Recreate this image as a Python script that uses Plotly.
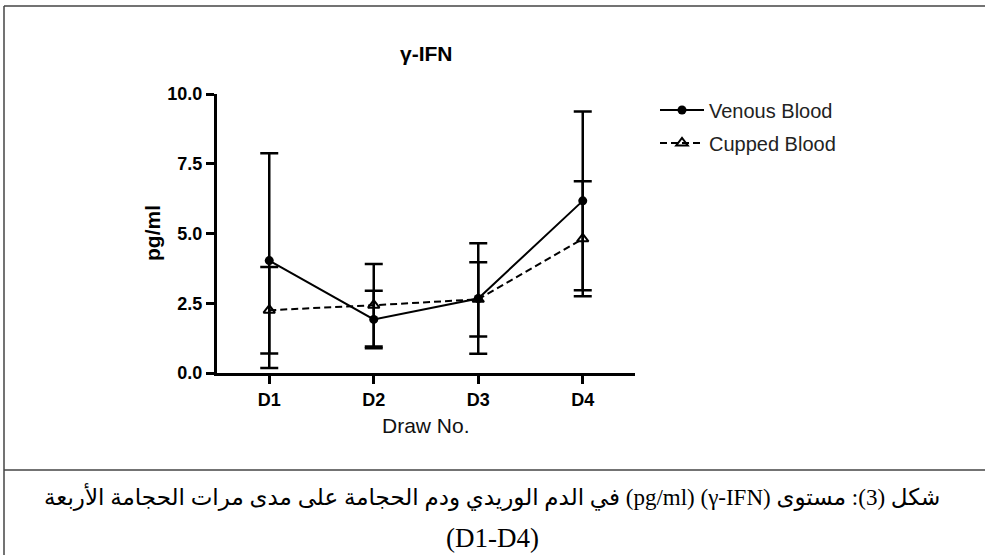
import plotly.graph_objects as go

# ---- data ----
draws = ["D1", "D2", "D3", "D4"]
venous_mean = [4.03, 1.92, 2.67, 6.17]
venous_sd = [3.85, 1.03, 1.98, 3.2]
cupped_mean = [2.25, 2.43, 2.64, 4.81]
cupped_sd = [1.55, 1.48, 1.33, 2.06]
y_ticks = [0, 2.5, 5.0, 7.5, 10.0]

title_text = "γ-IFN"
x_title = "Draw No."
y_title = "pg/ml"
caption_line1 = "شكل (3): مستوى (γ-IFN) (pg/ml) في الدم الوريدي ودم الحجامة على مدى مرات الحجامة الأربعة"
caption_line2 = "(D1-D4)"

# ---- layout geometry (pixels) ----
W, H = 985, 555
L, R, T, B = 217, 635, 94, 373


def px(xp):
    return (xp - L) / (R - L)


def py(yp):
    return (B - yp) / (B - T)


SANS = "Liberation Sans, Arial, Helvetica, sans-serif"
SERIF = "Liberation Serif, DejaVu Sans, serif"

fig = go.Figure()

fig.add_trace(go.Scatter(
    x=draws, y=venous_mean, name="Venous Blood", mode="lines+markers",
    line=dict(color="black", width=2),
    marker=dict(symbol="circle", size=9, color="black"),
    error_y=dict(type="data", array=venous_sd, visible=True,
                 thickness=2.5, width=9, color="black"),
    legend="legend",
))
fig.add_trace(go.Scatter(
    x=draws, y=cupped_mean, name="Cupped Blood", mode="lines+markers",
    line=dict(color="black", width=2, dash="7px,4px"),
    marker=dict(symbol="triangle-up-open", size=10, color="black",
                line=dict(width=2, color="black")),
    error_y=dict(type="data", array=cupped_sd, visible=True,
                 thickness=2.5, width=9, color="black"),
    legend="legend2",
))

fig.update_layout(
    width=W, height=H,
    margin=dict(l=L, r=W - R, t=T, b=H - B, pad=0),
    paper_bgcolor="white", plot_bgcolor="white",
    font=dict(family=SANS, color="black"),
    showlegend=True,
    legend=dict(x=px(655), y=py(110), xanchor="left", yanchor="middle",
                font=dict(family=SANS, size=20, color="#222"),
                bgcolor="rgba(0,0,0,0)", itemwidth=44),
    legend2=dict(x=px(655), y=py(143), xanchor="left", yanchor="middle",
                 font=dict(family=SANS, size=20, color="#222"),
                 bgcolor="rgba(0,0,0,0)", itemwidth=44),
)

fig.update_xaxes(
    type="category", categoryorder="array", categoryarray=draws,
    range=[-0.5, 3.5], showgrid=False, zeroline=False,
    showline=True, linecolor="black", linewidth=3,
    ticks="outside", ticklen=8, tickwidth=3, tickcolor="black",
    tickfont=dict(family=SANS, size=18, weight="bold", color="black"),
)
fig.update_yaxes(
    range=[0, 10], tickvals=y_ticks, ticktext=[f"{v:.1f}" for v in y_ticks],
    showgrid=False, zeroline=False,
    showline=True, linecolor="black", linewidth=3,
    ticks="outside", ticklen=8, tickwidth=3, tickcolor="black",
    tickfont=dict(family=SANS, size=18, weight="bold", color="black"),
)

annos = [
    dict(text=title_text, x=0.5, y=py(53),
         font=dict(family=SANS, size=21, weight="bold", color="black")),
    dict(text=x_title, x=0.5, y=py(425),
         font=dict(family=SANS, size=21, color="#111")),
    dict(text=y_title, x=px(152), y=py(233), textangle=-90,
         font=dict(family=SANS, size=21, weight="bold", color="black")),
    dict(text="\u202B" + caption_line1 + "\u202C", x=px(492), y=py(497),
         font=dict(family=SERIF, size=23, color="black")),
    dict(text=caption_line2, x=px(492), y=py(538),
         font=dict(family=SERIF, size=27, color="black")),
]
for a in annos:
    fig.add_annotation(xref="paper", yref="paper", showarrow=False,
                       xanchor="center", yanchor="middle", **a)

# frame of the figure box
frame_col = "#444"
for x0, y0, x1, y1 in [(4, 6, 4, 560), (4, 6, 990, 6), (4, 470, 990, 470)]:
    fig.add_shape(type="line", xref="paper", yref="paper",
                  x0=px(x0), y0=py(y0), x1=px(x1), y1=py(y1),
                  line=dict(color=frame_col, width=1.5))

fig.write_html("out.html")
